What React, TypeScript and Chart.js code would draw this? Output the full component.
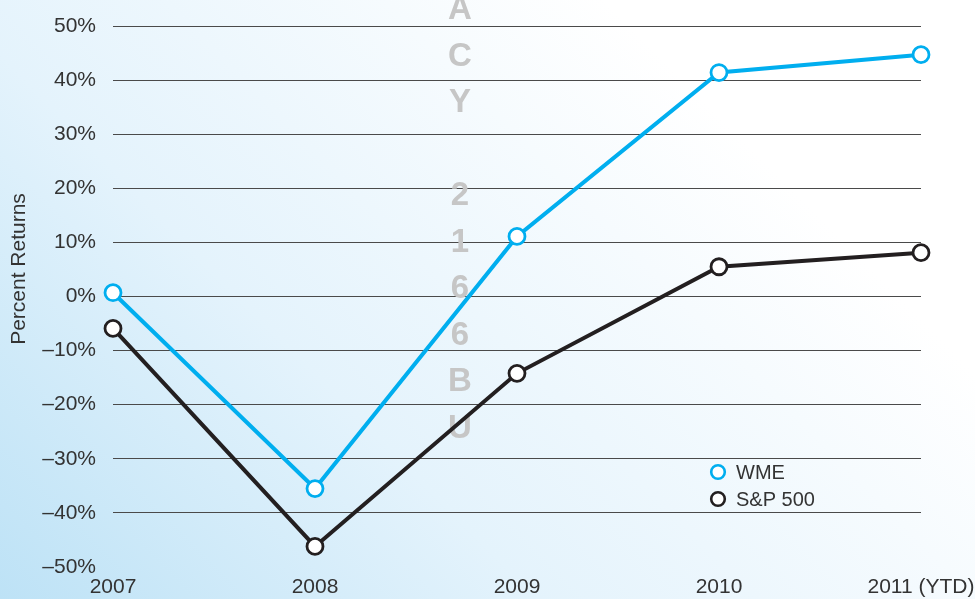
import React, { useEffect, useRef } from "react";
import { Chart, registerables } from "chart.js";

Chart.register(...registerables);

const categories = ["2007", "2008", "2009", "2010", "2011 (YTD)"];
const wmeValues = [0.7, -35.5, 11.1, 41.4, 44.7];
const spValues = [-5.9, -46.2, -14.2, 5.5, 8.1];
const yTicks = [-50, -40, -30, -20, -10, 0, 10, 20, 30, 40, 50];
const watermarkLetters = ["A", "C", "Y", "", "2", "1", "6", "6", "B", "U"];
const seriesNames = ["WME", "S&P 500"];
const yTitle = "Percent Returns";

const BLUE = "#00aeef";
const DARK = "#231f20";
const FONT = "'Liberation Sans', Arial, Helvetica, sans-serif";

const bgPlugin = {
  id: "bgGradient",
  beforeDraw(chart: any) {
    const { ctx, width, height } = chart;
    ctx.save();
    const g = ctx.createLinearGradient(0, height, width * 0.62, 0);
    g.addColorStop(0, "#bde2f6");
    g.addColorStop(0.45, "#e4f3fc");
    g.addColorStop(1, "#ffffff");
    ctx.fillStyle = g;
    ctx.fillRect(0, 0, width, height);
    ctx.restore();
  },
};

const titlePlugin = {
  id: "yTitle",
  afterDraw(chart: any) {
    const { ctx, chartArea } = chart;
    ctx.save();
    ctx.translate(25, chartArea.top + 243);
    ctx.rotate(-Math.PI / 2);
    ctx.font = `21px ${FONT}`;
    ctx.fillStyle = "#333333";
    ctx.textAlign = "center";
    ctx.textBaseline = "alphabetic";
    ctx.fillText(yTitle, 0, 0);
    ctx.restore();
  },
};

const watermarkPlugin = {
  id: "watermark",
  beforeDatasetsDraw(chart: any) {
    const { ctx, chartArea } = chart;
    ctx.save();
    ctx.font = `bold 33px ${FONT}`;
    ctx.fillStyle = "#c6c6c6";
    ctx.textAlign = "center";
    ctx.textBaseline = "middle";
    const x = chartArea.left + 347;
    watermarkLetters.forEach((ch, i) => {
      if (ch) ctx.fillText(ch, x, chartArea.top - 16 + i * 46.5);
    });
    ctx.restore();
  },
};

const legendPlugin = {
  id: "customLegend",
  afterDatasetsDraw(chart: any) {
    const { ctx, chartArea } = chart;
    const colors = [BLUE, DARK];
    ctx.save();
    ctx.font = `20px ${FONT}`;
    ctx.textAlign = "left";
    ctx.textBaseline = "middle";
    seriesNames.forEach((name, i) => {
      const cx = chartArea.left + 605;
      const cy = chartArea.top + 446 + i * 27;
      ctx.beginPath();
      ctx.arc(cx, cy, 6.8, 0, Math.PI * 2);
      ctx.fillStyle = "#ffffff";
      ctx.fill();
      ctx.lineWidth = 2.6;
      ctx.strokeStyle = colors[i];
      ctx.stroke();
      ctx.fillStyle = "#333333";
      ctx.fillText(name, cx + 18, cy + 1);
    });
    ctx.restore();
  },
};

export default function App() {
  const ref = useRef<HTMLCanvasElement | null>(null);

  useEffect(() => {
    document.body.style.margin = "0";
    if (!ref.current) return;
    const chart = new Chart(ref.current, {
      type: "line",
      data: {
        labels: categories,
        datasets: [
          {
            label: seriesNames[0],
            data: wmeValues,
            borderColor: BLUE,
            borderWidth: 4,
            pointRadius: 8,
            pointBorderWidth: 2.8,
            pointBackgroundColor: "#ffffff",
            pointBorderColor: BLUE,
            tension: 0,
            clip: false as any,
          },
          {
            label: seriesNames[1],
            data: spValues,
            borderColor: DARK,
            borderWidth: 4,
            pointRadius: 8,
            pointBorderWidth: 2.8,
            pointBackgroundColor: "#ffffff",
            pointBorderColor: DARK,
            tension: 0,
            clip: false as any,
          },
        ],
      },
      options: {
        animation: false,
        responsive: false,
        devicePixelRatio: 1,
        layout: { padding: { top: 26, right: 54, left: 0, bottom: 0 } },
        plugins: { legend: { display: false }, tooltip: { enabled: false } },
        scales: {
          x: {
            type: "category",
            offset: false,
            grid: { display: false },
            border: { display: false },
            ticks: {
              font: { size: 21, family: FONT },
              color: "#333333",
              padding: 0,
              maxRotation: 0,
              autoSkip: false,
            },
            afterFit(scale: any) {
              scale.height = 32;
              scale.paddingLeft = 0;
              scale.paddingRight = 0;
            },
          },
          y: {
            min: -50,
            max: 50,
            afterBuildTicks(scale: any) {
              scale.ticks = yTicks.map((v) => ({ value: v }));
            },
            grid: {
              drawTicks: false,
              color: (c: any) => (c.tick && c.tick.value === -50 ? "rgba(0,0,0,0)" : "#4a4a4a"),
              lineWidth: 1,
            },
            border: { display: false },
            ticks: {
              font: { size: 21, family: FONT },
              color: "#333333",
              padding: 17,
              callback: (v: any) => (v < 0 ? "\u2013" + Math.abs(v) + "%" : v + "%"),
            },
            title: { display: false },
            afterFit(scale: any) {
              scale.width = 113;
              scale.paddingTop = 0;
              scale.paddingBottom = 0;
            },
          },
        },
      },
      plugins: [bgPlugin, watermarkPlugin, legendPlugin, titlePlugin],
    });
    return () => chart.destroy();
  }, []);

  return <canvas ref={ref} width={975} height={599} style={{ display: "block" }} />;
}
